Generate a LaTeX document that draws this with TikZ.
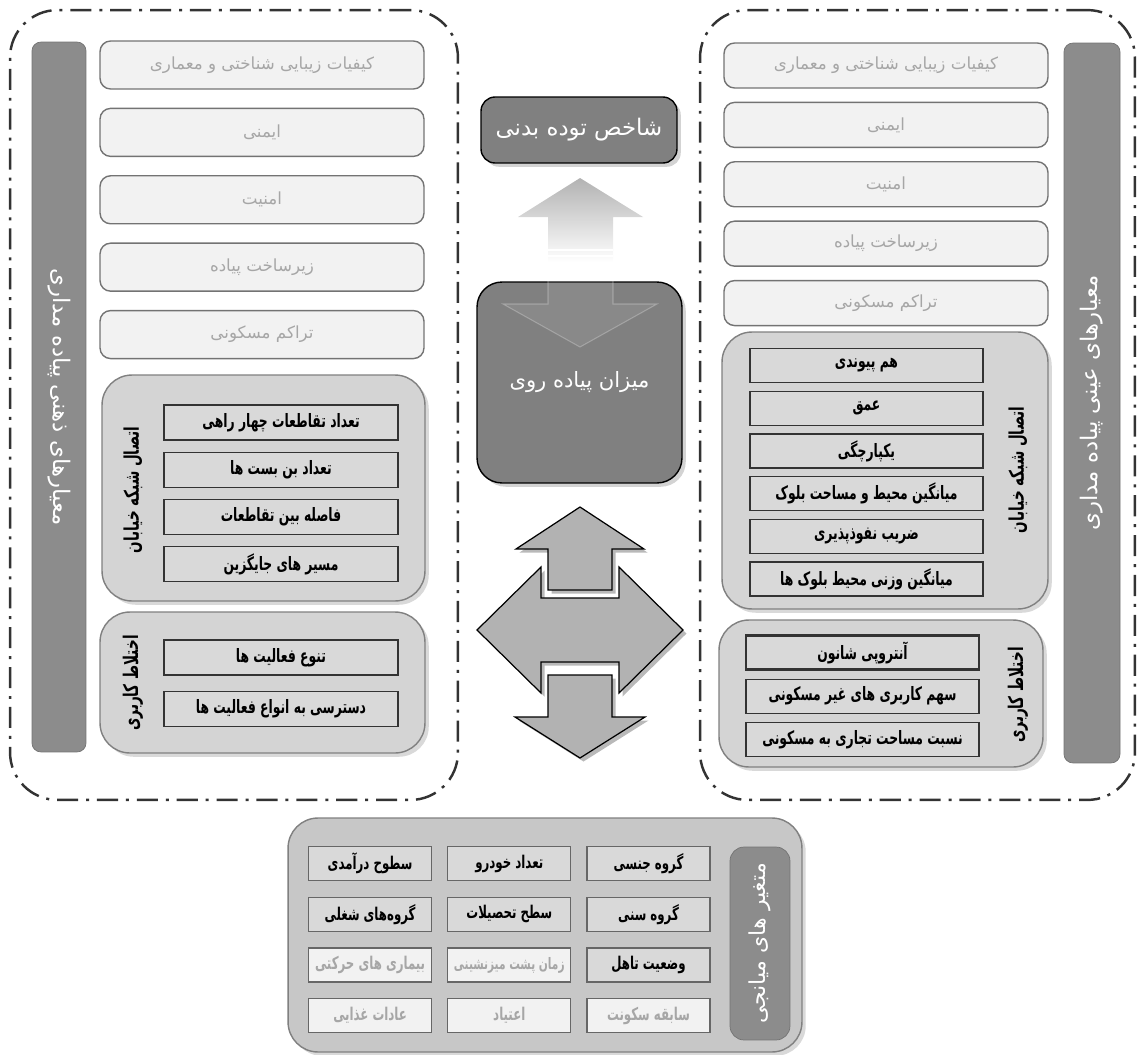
\documentclass[tikz,border=0pt]{standalone}
\usepackage{fontspec}
\newfontfamily\farsi[Script=Arabic]{DejaVu Sans}
\newfontfamily\farsinarrow[Script=Arabic, FakeStretch=0.67]{DejaVu Sans}
\TeXXeTstate=1
\usetikzlibrary{positioning,shadows,fadings}
\newcommand\rtltext[1]{\beginR #1\endR}
\tikzset{
outline/.style={draw=black!80, line width=1.4pt, dash pattern=on 12pt off 4.5pt on 1.7pt off 4.5pt, rounded corners=0.95cm},
sidebar/.style={draw=black!55, fill=black!45, rounded corners=5pt, text=white, font=\farsi\fontsize{13}{15}\selectfont},
soft/.style={draw=black!55, fill=black!5, rounded corners=6pt, line width=0.8pt, text=black!35, minimum width=6.48cm, minimum height=0.96cm, font=\farsi\fontsize{9.5}{11}\selectfont},
panel/.style={draw=black!50, fill=black!17, rounded corners=0.6cm, line width=0.8pt, drop shadow={opacity=0.3}},
measure/.style={draw=black!80, fill=black!15, line width=0.7pt, minimum height=0.68cm, inner xsep=2pt, font=\farsinarrow\bfseries\fontsize{10.5}{12}\selectfont},
paneltitle/.style={rotate=90, font=\farsinarrow\bfseries\fontsize{11.5}{13}\selectfont},
core/.style={draw=black, fill=black!50, line width=0.8pt, text=white, drop shadow={opacity=0.35}, font=\farsi\fontsize{13}{15}\selectfont},
mediator/.style={draw=black!60, fill=black!15, line width=0.7pt, minimum width=2.46cm, minimum height=0.68cm, inner xsep=1pt, font=\farsinarrow\bfseries\fontsize{10}{12}\selectfont},
mediatorsoft/.style={mediator, fill=black!5, text=black!35},
block/.style={draw=black, fill=black!30, line width=0.7pt, drop shadow={shadow xshift=2pt, shadow yshift=-2pt, opacity=0.55}},
}

\begin{document}
\begin{tikzpicture}[x=0.02cm, y=-0.02cm]
\useasboundingbox (0,0) rectangle (1137,1055);

% left: subjective criteria
\node[outline, minimum width=8.96cm, minimum height=15.8cm] (lframe) at (234,405) {};
\node[sidebar, rotate=-90, minimum width=14.2cm, minimum height=1.08cm] (lbar) at (59,397) {\rtltext{معیارهای ذهنی پیاده مداری}};
\node[soft] (lq1) at (262,65) {\rtltext{کیفیات زیبایی شناختی و معماری}};
\node[soft, below=0.36cm of lq1] (lq2) {\rtltext{ایمنی}};
\node[soft, below=0.36cm of lq2] (lq3) {\rtltext{امنیت}};
\node[soft, below=0.36cm of lq3] (lq4) {\rtltext{زیرساخت پیاده}};
\node[soft, below=0.36cm of lq4] (lq5) {\rtltext{تراکم مسکونی}};

\node[panel, minimum width=6.46cm, minimum height=4.52cm] (lnet) at (263.5,488) {};
\node[paneltitle] (lnettitle) at (133,490) {\rtltext{اتصال شبکه خیابان}};
\node[measure, minimum width=4.68cm, minimum height=0.7cm] (ln1) at (281,422.5) {\rtltext{تعداد تقاطعات چهار راهی}};
\node[measure, minimum width=4.68cm, minimum height=0.7cm, below=0.22cm of ln1] (ln2) {\rtltext{تعداد بن بست ها}};
\node[measure, minimum width=4.68cm, minimum height=0.7cm, below=0.22cm of ln2] (ln3) {\rtltext{فاصله بین تقاطعات}};
\node[measure, minimum width=4.68cm, minimum height=0.7cm, below=0.22cm of ln3] (ln4) {\rtltext{مسیر های جایگزین}};

\node[panel, minimum width=6.5cm, minimum height=2.82cm] (lmix) at (262.5,682.5) {};
\node[paneltitle] (lmixtitle) at (133,683) {\rtltext{اختلاط کاربری}};
\node[measure, minimum width=4.68cm, minimum height=0.7cm] (lm1) at (281,657.5) {\rtltext{تنوع فعالیت ها}};
\node[measure, minimum width=4.68cm, minimum height=0.7cm, below=0.3cm of lm1] (lm2) {\rtltext{دسترسی به انواع فعالیت ها}};

% right: objective criteria
\node[outline, minimum width=8.7cm, minimum height=15.8cm] (rframe) at (917.5,405) {};
\node[sidebar, rotate=90, minimum width=14.4cm, minimum height=1.12cm] (rbar) at (1092,403) {\rtltext{معیارهای عینی پیاده مداری}};
\node[soft, minimum height=0.9cm] (rq1) at (886,65.5) {\rtltext{کیفیات زیبایی شناختی و معماری}};
\node[soft, minimum height=0.9cm, below=0.26cm of rq1] (rq2) {\rtltext{ایمنی}};
\node[soft, minimum height=0.9cm, below=0.26cm of rq2] (rq3) {\rtltext{امنیت}};
\node[soft, minimum height=0.9cm, below=0.26cm of rq3] (rq4) {\rtltext{زیرساخت پیاده}};
\node[soft, minimum height=0.9cm, below=0.26cm of rq4] (rq5) {\rtltext{تراکم مسکونی}};

\node[panel, minimum width=6.52cm, minimum height=5.54cm] (rnet) at (885,470.5) {};
\node[paneltitle] (rnettitle) at (1018,470) {\rtltext{اتصال شبکه خیابان}};
\node[measure, minimum width=4.66cm] (rn1) at (866.5,365.5) {\rtltext{هم پیوندی}};
\node[measure, minimum width=4.66cm, below=0.15cm of rn1] (rn2) {\rtltext{عمق}};
\node[measure, minimum width=4.66cm, below=0.15cm of rn2] (rn3) {\rtltext{یکپارچگی}};
\node[measure, minimum width=4.66cm, below=0.15cm of rn3] (rn4) {\rtltext{میانگین محیط و مساحت بلوک}};
\node[measure, minimum width=4.66cm, below=0.15cm of rn4] (rn5) {\rtltext{ضریب نفوذپذیری}};
\node[measure, minimum width=4.66cm, below=0.15cm of rn5] (rn6) {\rtltext{میانگین وزنی محیط بلوک ها}};

\node[panel, minimum width=6.48cm, minimum height=2.94cm] (rmix) at (881,693.5) {};
\node[paneltitle] (rmixtitle) at (1018,695) {\rtltext{اختلاط کاربری}};
\node[measure, minimum width=4.66cm, line width=1.2pt] (rm1) at (862.5,652.5) {\rtltext{آنتروپی شانون}};
\node[measure, minimum width=4.66cm, below=0.16cm of rm1] (rm2) {\rtltext{سهم کاربری های غیر مسکونی}};
\node[measure, minimum width=4.66cm, below=0.16cm of rm2] (rm3) {\rtltext{نسبت مساحت تجاری به مسکونی}};

% centre
\node[core, minimum width=3.92cm, minimum height=1.32cm, rounded corners=8pt] (bmi) at (579,130) {\rtltext{شاخص توده بدنی}};
\node[core, minimum width=4.1cm, minimum height=4.02cm, rounded corners=0.5cm, font=\farsi\fontsize{12}{14}\selectfont] (walk) at (579.5,382.5) {\rtltext{میزان پیاده روی}};
\fill[black!30, path fading=south] (580,178) -- (643,217) -- (613,217) -- (613,262) -- (548,262) -- (548,217) -- (518,217) -- cycle;
\draw[white, line width=1.5pt] (548,250) -- (613,250) (548,256) -- (613,256);
\filldraw[white, fill opacity=0.08, draw opacity=0.25, line width=0.6pt] (548,274) -- (613,274) -- (613,304) -- (657,304) -- (580,347) -- (503,304) -- (548,304) -- cycle;

\filldraw[block] (580,507) -- (644,549) -- (612,549) -- (612,590) -- (548,590) -- (548,549) -- (516,549) -- cycle;
\filldraw[block] (477,630) -- (541,567) -- (541,598) -- (619,598) -- (619,567) -- (683,630) -- (619,693) -- (619,662) -- (541,662) -- (541,693) -- cycle;
\filldraw[block] (548,675) -- (612,675) -- (612,717) -- (645,717) -- (580,758) -- (515,717) -- (548,717) -- cycle;

% bottom: mediating variables
\node[panel, fill=black!22, minimum width=10.28cm, minimum height=4.68cm] (bframe) at (545,935) {};
\node[sidebar, rotate=90, minimum width=3.86cm, minimum height=1.2cm, rounded corners=8pt, font=\farsi\fontsize{12.5}{14}\selectfont] (bbar) at (760,943.5) {\rtltext{متغیر های میانجی}};
\node[mediator] (m11) at (648.5,863.5) {\rtltext{گروه جنسی}};
\node[mediator, left=0.3cm of m11] (m12) {\rtltext{تعداد خودرو}};
\node[mediator, left=0.3cm of m12] (m13) {\rtltext{سطوح درآمدی}};
\node[mediator, below=0.31cm of m11] (m21) {\rtltext{گروه سنی}};
\node[mediator, below=0.31cm of m12] (m22) {\rtltext{سطح تحصیلات}};
\node[mediator, below=0.31cm of m13] (m23) {\rtltext{گروه‌های شغلی}};
\node[mediator, below=0.31cm of m21] (m31) {\rtltext{وضعیت تاهل}};
\node[mediatorsoft, below=0.31cm of m22, font=\farsinarrow\bfseries\fontsize{9}{11}\selectfont] (m32) {\rtltext{زمان پشت میزنشینی}};
\node[mediatorsoft, below=0.31cm of m23] (m33) {\rtltext{بیماری های حرکتی}};
\node[mediatorsoft, below=0.31cm of m31] (m41) {\rtltext{سابقه سکونت}};
\node[mediatorsoft, below=0.31cm of m32] (m42) {\rtltext{اعتیاد}};
\node[mediatorsoft, below=0.31cm of m33] (m43) {\rtltext{عادات غذایی}};
\end{tikzpicture}
\end{document}
